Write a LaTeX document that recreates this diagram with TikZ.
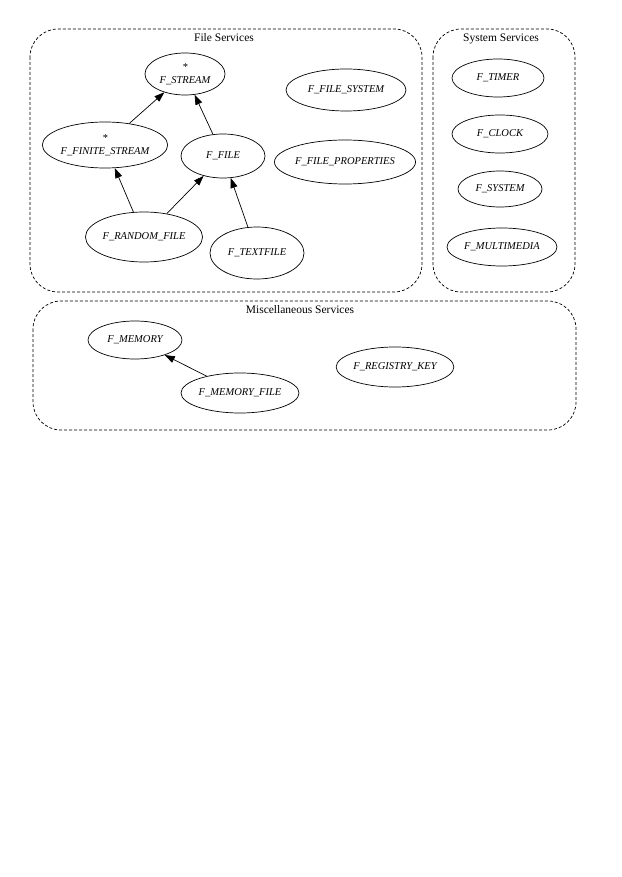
\documentclass[tikz,border=0pt]{standalone}
\usepackage{fontspec}
\setmainfont{Liberation Serif}
\usetikzlibrary{shapes.geometric,arrows.meta}
\tikzset{
  cls/.style={draw, line width=0.7pt, dash pattern=on 3pt off 2pt, rounded corners=28pt},
  clslabel/.style={font=\fontsize{11.5}{13}\selectfont, inner sep=0pt},
  cnode/.style={draw, ellipse, line width=0.7pt, inner sep=0pt, align=center,
    font=\fontsize{10.5}{13}\selectfont\itshape},
  inh/.style={draw, line width=0.7pt, -{Triangle[length=10pt,width=7pt]}}
}
\begin{document}
\begin{tikzpicture}[x=1pt,y=-1pt]
\useasboundingbox (0,0) rectangle (621,877);
% clusters
\draw[cls] (30,29) rectangle (422,292);
\draw[cls] (433,29) rectangle (575,292);
\draw[cls] (33,301) rectangle (576,430);
\node[clslabel] (lfile) at (224,38) {File Services};
\node[clslabel] (lsys) at (501,39) {System Services};
\node[clslabel] (lmisc) at (300,310) {Miscellaneous Services};
% file services
\node[cnode, minimum width=80pt, minimum height=42pt] (stream) at (185,74) {*\\F\_STREAM};
\node[cnode, minimum width=116pt, minimum height=46pt] (finite) at (105,145) {*\\F\_FINITE\_STREAM};
\node[cnode, minimum width=84pt, minimum height=44pt] (file) at (223,156) {F\_FILE};
\node[cnode, minimum width=120pt, minimum height=42pt] (fsys) at (346,90) {F\_FILE\_SYSTEM};
\node[cnode, minimum width=136pt, minimum height=44pt] (fprop) at (345,162) {F\_FILE\_PROPERTIES};
\node[cnode, minimum width=106pt, minimum height=50pt] (random) at (144,237) {F\_RANDOM\_FILE};
\node[cnode, minimum width=94pt, minimum height=52pt] (textfile) at (257,253) {F\_TEXTFILE};
% system services
\node[cnode, minimum width=92pt, minimum height=38pt] (timer) at (498,78) {F\_TIMER};
\node[cnode, minimum width=96pt, minimum height=38pt] (clock) at (500,134) {F\_CLOCK};
\node[cnode, minimum width=84pt, minimum height=36pt] (system) at (500,189) {F\_SYSTEM};
\node[cnode, minimum width=110pt, minimum height=38pt] (mm) at (502,247) {F\_MULTIMEDIA};
% misc services
\node[cnode, minimum width=94pt, minimum height=38pt] (memory) at (135,340) {F\_MEMORY};
\node[cnode, minimum width=118pt, minimum height=40pt] (memfile) at (240,393) {F\_MEMORY\_FILE};
\node[cnode, minimum width=112pt, minimum height=40pt] (reg) at (395,367) {F\_REGISTRY\_KEY};
% edges
\draw[inh] (finite) -- (stream);
\draw[inh] (file) -- (stream);
\draw[inh] (random) -- (finite);
\draw[inh] (random) -- (file);
\draw[inh] (textfile) -- (file);
\draw[inh] (memfile) -- (memory);
\end{tikzpicture}
\end{document}
